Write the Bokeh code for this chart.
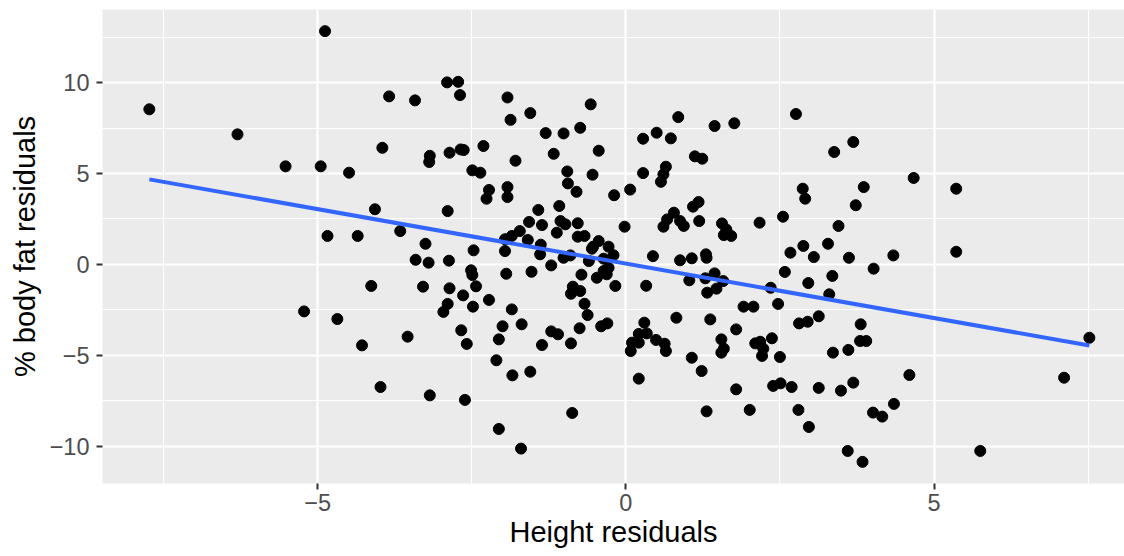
import numpy as np
from bokeh.plotting import figure
from bokeh.models import FixedTicker, ColumnDataSource, Range1d
from bokeh.embed import file_html
from bokeh.resources import INLINE

# Height residuals (x) and % body fat residuals (y)
height_resid = [
    -4.88, -7.73, -6.30, -5.52, -4.95, -4.49, -4.84, -4.35,
    -3.84, -3.42, -2.90, -2.72, -2.69, -1.92, -1.87, -1.55, -0.57, -1.30, -1.01, -0.74,
    -3.95, -3.18, -3.19, -2.86, -2.68, -2.63, -2.31, -1.79, -1.17, -0.44,
    -2.49, -2.36, -0.95, -0.94, -0.54, -0.80, -2.22, -2.26, -1.92, -1.92, -0.19,
    -4.07, -2.89, -1.42, -1.08, -1.57, -1.36, -1.06, -0.98, -1.12, -0.78, -0.78, -0.67,
    -0.44, -0.53, -0.28, -1.72, -1.85, -1.96, -1.59, -1.38, -1.96, -3.66, -3.25, -2.47,
    -3.41, -3.20, -2.87, -2.51, -2.49, -1.94, -1.53, -1.39, -1.21, -1.01, -0.90, -0.55,
    -0.60, -0.36, -0.72, -0.47, -0.36, -0.28,
    -4.13, -3.29, -2.86, -2.43, -2.64, -2.22, -2.48, -2.89, -2.96, -1.85,
    -0.86, -0.74, -0.89, -0.67, -0.62,
    -2.67, -2.58, -2.00, -1.69, -2.06, -1.21, -1.10, -1.36, -0.89, -0.75, -0.40, -0.30,
    -4.28, -3.54, -2.10, -1.84, -1.55, -3.98, -3.18, -2.61, -0.87, -2.06, -1.70,
    -5.22, -4.68,
    0.85, 2.76, 0.28, 0.50, 0.73, 1.44, 1.76, 3.38, 3.69, 1.12, 1.24, 0.28, 0.65, 0.61,
    0.57, 0.07, 2.87, 2.91, 3.86, 3.73, 1.18, 1.09, 0.78, 0.67, 0.61, 0.88, 0.94, 1.19,
    -0.02, 1.56, 1.63, 1.59, 1.71, 2.17, 2.55, 3.45, 3.28, 2.88, 2.67, 3.05, 3.62,
    -0.20, 0.44,
    0.88, 1.07, 1.30, 1.31, -0.31, -0.17, 0.33, 1.03, 1.29, 1.44, 1.58, 1.32, 1.47,
    2.35, 2.58, 2.96, 3.35, 3.30, 2.47, 1.91, 2.07, 0.82, 1.37, 0.30, 0.21, 0.34,
    0.10, 0.21, 0.08, 0.49, 0.63, 0.65, 1.07, 1.79, 1.55, 1.59, 1.55, 2.10, 2.18,
    2.23, 2.21, 2.37, 2.50, 2.81, 2.95, 3.13, 3.81, 3.80, 3.90, 3.36, 3.61,
    0.21, 1.23, 1.79, 2.39, 2.51, 2.69, 3.13, 3.49, 3.69, 1.31, 2.01, 2.80, 2.97,
    3.60, 3.84,
    4.67, 5.36, 4.34, 5.36, 4.02, 4.60, 4.35, 4.01, 4.16, 5.75, 7.11, 7.52,
]
fat_resid = [
    12.83, 8.53, 7.15, 5.39, 5.39, 5.04, 1.56, 1.56,
    9.24, 9.02, 10.01, 10.04, 9.31, 9.18, 7.95, 8.32, 8.80, 7.22, 7.20, 7.51,
    6.41, 5.97, 5.63, 6.14, 6.32, 6.29, 6.51, 5.70, 6.08, 6.25,
    5.17, 5.04, 5.11, 4.45, 4.93, 3.99, 4.09, 3.61, 4.25, 3.70, 3.80,
    3.03, 2.93, 2.99, 3.21, 2.33, 2.16, 2.38, 2.20, 1.74, 2.26, 1.52, 1.56,
    1.28, 0.97, 0.97, 1.83, 1.56, 1.38, 1.34, 1.08, 0.73, 1.83, 1.13, 0.77,
    0.25, 0.09, 0.20, -0.33, -0.59, -0.52, -0.41, 0.55, -0.06, 0.36, 0.49, 0.86,
    0.18, 0.31, -0.57, -0.74, -0.37, -0.19,
    -1.19, -1.23, -1.32, -1.21, -1.71, -1.96, -2.33, -2.18, -2.62, -2.48,
    -1.23, -1.47, -1.62, -2.17, -2.79,
    -3.63, -4.38, -3.41, -3.30, -4.13, -3.69, -3.85, -4.44, -4.35, -3.52, -3.41, -3.25,
    -4.46, -3.98, -5.28, -6.11, -5.91, -6.75, -7.21, -7.46, -8.18, -9.06, -10.14,
    -2.59, -3.01,
    8.10, 8.27, 6.91, 7.24, 6.93, 7.61, 7.76, 6.18, 6.73, 5.94, 5.81, 5.02, 5.37, 4.95,
    4.54, 4.11, 4.16, 3.61, 4.25, 3.25, 3.43, 3.17, 2.84, 2.47, 2.07, 2.38, 2.11, 2.38,
    2.07, 2.25, 1.92, 1.61, 1.56, 2.29, 2.62, 2.11, 1.13, 1.01, 0.64, 0.40, 0.36,
    0.50, 0.45,
    0.22, 0.33, 0.55, 0.36, -0.55, -1.19, -1.18, -0.88, -0.77, -0.50, -0.92, -1.56, -1.34,
    -1.29, -0.42, -1.03, -0.64, -1.65, -2.18, -2.33, -2.33, -2.94, -3.03, -3.21, -3.83, -3.80,
    -4.31, -4.31, -4.77, -4.16, -4.37, -4.77, -5.14, -3.58, -4.13, -4.64, -4.86, -4.35, -4.26,
    -4.64, -5.04, -4.07, -5.10, -3.25, -3.16, -2.86, -3.30, -4.22, -4.22, -4.86, -4.71,
    -6.29, -5.87, -6.88, -6.69, -6.55, -6.75, -6.80, -6.95, -6.51, -8.09, -8.01, -8.01, -8.95,
    -10.27, -10.87,
    4.75, 4.16, 0.49, 0.69, -0.24, -6.09, -7.68, -8.16, -8.38, -10.27, -6.24, -4.04,
]

x_ticks = [-5, 0, 5]
x_minor = [-7.5, -2.5, 2.5, 7.5]
y_ticks = [-10, -5, 0, 5, 10]
y_minor = [-12.5, -7.5, -2.5, 2.5, 7.5, 12.5]
tick_labels = {-10: "\u221210", -5: "\u22125", 0: "0", 5: "5", 10: "10"}

xs = np.array(height_resid)
ys = np.array(fat_resid)
slope, intercept = np.polyfit(xs, ys, 1)
fit_x = np.array([xs.min(), xs.max()])
fit_y = intercept + slope * fit_x

p = figure(
    frame_width=1022, frame_height=474,
    x_range=Range1d(-8.49, 8.09), y_range=Range1d(-12.06, 14.02),
    output_backend="svg", toolbar_location=None,
    min_border_left=102, min_border_right=0, min_border_top=9, min_border_bottom=73,
)
p.background_fill_color = "#EBEBEB"
p.border_fill_color = "white"
p.outline_line_color = None

p.xaxis.ticker = FixedTicker(ticks=x_ticks, minor_ticks=x_minor)
p.yaxis.ticker = FixedTicker(ticks=y_ticks, minor_ticks=y_minor)
for ax in (p.xaxis[0], p.yaxis[0]):
    ax.major_label_overrides = tick_labels
    ax.axis_line_color = None
    ax.major_tick_line_color = "#333333"
    ax.major_tick_line_width = 2
    ax.major_tick_in = 0
    ax.major_tick_out = 6
    ax.minor_tick_line_color = None
    ax.major_label_text_font = "Liberation Sans"
    ax.major_label_text_font_size = "23.5px"
    ax.major_label_text_color = "#4D4D4D"
    ax.axis_label_text_font = "Liberation Sans"
    ax.axis_label_text_font_size = "29px"
    ax.axis_label_text_font_style = "normal"
    ax.axis_label_text_color = "black"

p.xaxis.axis_label = "Height residuals"
p.yaxis.axis_label = "% body fat residuals"
p.xaxis.major_label_standoff = 4
p.xaxis.axis_label_standoff = 2
p.yaxis.major_label_standoff = 7
p.yaxis.axis_label_standoff = 6

for g in (p.xgrid[0], p.ygrid[0]):
    g.grid_line_color = "white"
    g.grid_line_width = 2.2
    g.minor_grid_line_color = "white"
    g.minor_grid_line_width = 1.1

src = ColumnDataSource(dict(x=xs, y=ys))
p.scatter("x", "y", source=src, size=11, color="black", line_color="black")
p.line(fit_x, fit_y, line_color="#3366FF", line_width=4)

open("out.html", "w").write(file_html(p, INLINE))
